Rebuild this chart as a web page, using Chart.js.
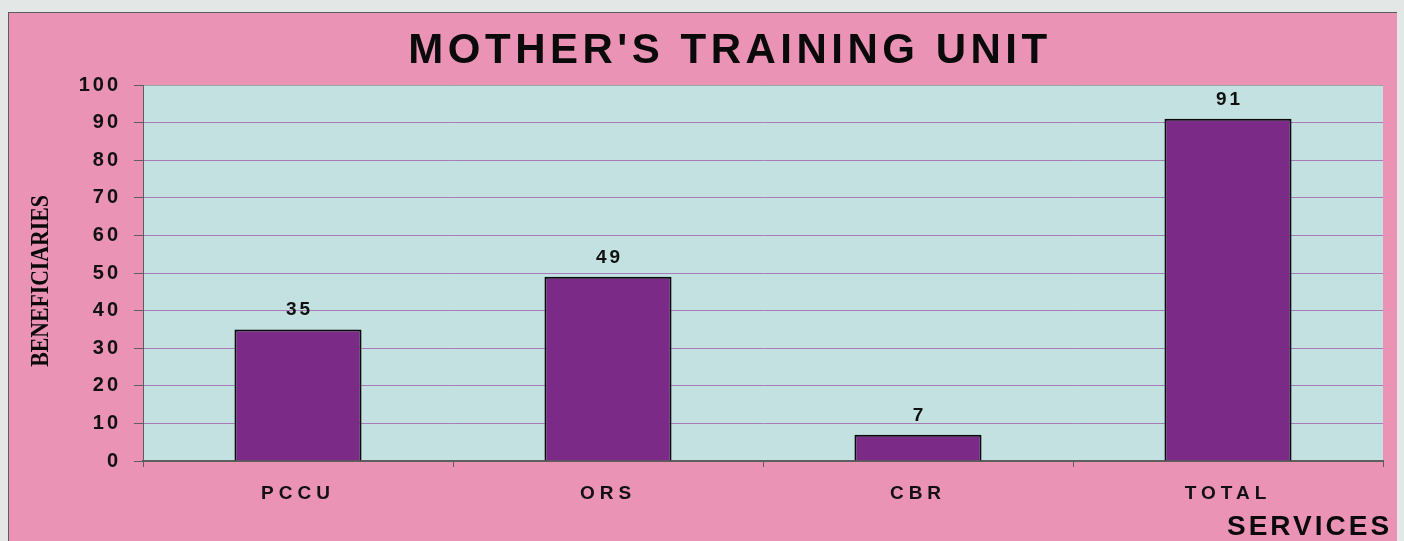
<!DOCTYPE html>
<html>
<head>
<meta charset="utf-8">
<script src="https://cdn.jsdelivr.net/npm/chart.js@4.4.1/dist/chart.umd.min.js"></script>
<style>
    html, body { margin: 0; padding: 0; background: #e3e7e5; }
    body { width: 1404px; height: 541px; overflow: hidden; position: relative; }
    .frame {
        position: absolute; left: 8px; top: 12px;
        width: 1388px; height: 529px;
        background: #eb93b4;
        border-top: 1px solid #5c5c5c;
        border-left: 1px solid #5c5c5c;
    }
    canvas { display: block; }
</style>
</head>
<body>
<div class="frame"><canvas id="chart" width="1388" height="528"></canvas></div>
<script>
'use strict';

const categories = ["PCCU", "ORS", "CBR", "TOTAL"];
const beneficiaries = [35, 49, 7, 91];
const yMin = 0;
const yMax = 100;
const yStep = 10;
const chartTitle = "MOTHER'S TRAINING UNIT";
const yAxisTitle = "BENEFICIARIES";
const xAxisTitle = "SERVICES";

const SANS = "'Liberation Sans', Arial, sans-serif";
const SERIF = "'Liberation Serif', 'Times New Roman', serif";
const PLOT_BG = "#c2e1e0";
const GRID = "#a87cb8";
const AXIS = "#5e5e5e";

// draws the plot background, the titles and the value labels.
// letter spacing is switched between passes: y ticks draw before the bars,
// x ticks (z: 1) after them.
const decorPlugin = {
    id: "decor",
    beforeDraw(chart) {
        const { ctx, chartArea: a } = chart;
        ctx.save();
        ctx.fillStyle = PLOT_BG;
        ctx.fillRect(a.left, a.top, a.right - a.left, a.bottom - a.top);
        ctx.restore();
        ctx.letterSpacing = "3px";
    },
    afterDatasetsDraw(chart) {
        const { ctx } = chart;
        const meta = chart.getDatasetMeta(0);
        ctx.save();
        ctx.letterSpacing = "3px";
        ctx.font = "bold 19px " + SANS;
        ctx.fillStyle = "#111";
        ctx.textAlign = "center";
        ctx.textBaseline = "alphabetic";
        meta.data.forEach((bar, i) => {
            ctx.fillText(String(chart.data.datasets[0].data[i]), bar.x + 1.5, bar.y - 14);
        });
        ctx.restore();
        ctx.letterSpacing = "5px";
    },
    afterDraw(chart) {
        const { ctx } = chart;
        ctx.save();
        ctx.fillStyle = "#0a0a0a";
        ctx.textBaseline = "alphabetic";

        ctx.letterSpacing = "4.5px";
        ctx.font = "bold 42px " + SANS;
        ctx.textAlign = "center";
        ctx.fillText(chartTitle, 721, 50);

        ctx.letterSpacing = "3px";
        ctx.font = "bold 28px " + SANS;
        ctx.textAlign = "left";
        ctx.fillText(xAxisTitle, 1218, 522);

        ctx.letterSpacing = "0px";
        ctx.translate(33, 268);
        ctx.rotate(-Math.PI / 2);
        ctx.scale(0.87, 1);
        ctx.font = "bold 25px " + SERIF;
        ctx.textAlign = "center";
        ctx.textBaseline = "middle";
        ctx.fillText(yAxisTitle, 0, 0);
        ctx.restore();
        ctx.letterSpacing = "0px";
    }
};

new Chart(document.getElementById("chart"), {
    type: "bar",
    data: {
        labels: categories,
        datasets: [{
            data: beneficiaries,
            backgroundColor: "#7b2a88",
            borderColor: "#0a0a0a",
            borderWidth: 2,
            barPercentage: 0.41,
            categoryPercentage: 1
        }]
    },
    options: {
        responsive: false,
        animation: false,
        layout: { padding: { top: 72, right: 14, bottom: 0, left: 0 } },
        plugins: {
            legend: { display: false },
            tooltip: { enabled: false }
        },
        scales: {
            x: {
                afterFit: scale => { scale.height = 80; },
                grid: {
                    display: true,
                    drawOnChartArea: false,
                    drawTicks: true,
                    tickLength: 6,
                    tickColor: AXIS,
                    offset: true
                },
                border: { color: AXIS, width: 2 },
                ticks: {
                    z: 1,
                    color: "#111",
                    font: { family: SANS, size: 19, weight: "bold" },
                    padding: 15,
                    maxRotation: 0
                }
            },
            y: {
                min: yMin,
                max: yMax,
                afterFit: scale => { scale.width = 134; },
                grid: {
                    color: ctx => (ctx.tick && ctx.tick.value === yMax ? "#9aa6a6" : GRID),
                    lineWidth: 1,
                    tickLength: 9,
                    tickColor: AXIS
                },
                border: { color: AXIS, width: 1 },
                ticks: {
                    stepSize: yStep,
                    color: "#111",
                    font: { family: SANS, size: 20, weight: "bold" },
                    padding: 13
                }
            }
        }
    },
    plugins: [decorPlugin]
});
</script>
</body>
</html>
